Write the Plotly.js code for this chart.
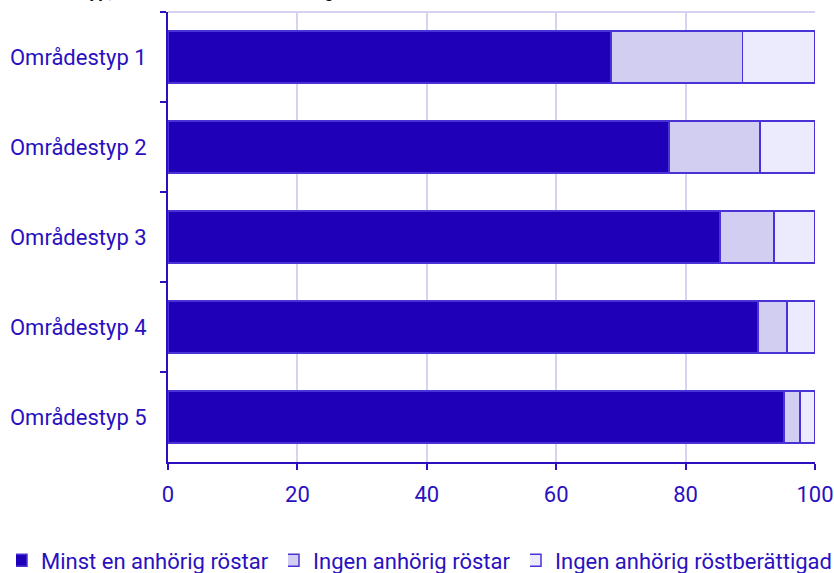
<!DOCTYPE html>
<html><head><meta charset="utf-8">
<script src="https://cdn.plot.ly/plotly-3.0.1.min.js"></script>
<style>body{margin:0;background:#fff}#c{width:834px;height:573px}</style>
</head><body><div id="c"></div>
<script>
var categories = ["Områdestyp 1","Områdestyp 2","Områdestyp 3","Områdestyp 4","Områdestyp 5"];
var seriesNames = ["Minst en anhörig röstar","Ingen anhörig röstar","Ingen anhörig röstberättigad"];
var minstEn = [68.5, 77.4, 85.3, 91.2, 95.2];
var ingenRostar = [20.3, 14.1, 8.4, 4.5, 2.5];
var ingenBerattigad = [11.2, 8.5, 6.3, 4.3, 2.3];
var xTicks = [0, 20, 40, 60, 80, 100];
var titleText = "Områdestyp, andel efter om alla anhöriga röstar";

var colors = ["#1f00b8", "#d2cef1", "#ecebfd"];
var blue = "#2a10c0";
var vals = [minstEn, ingenRostar, ingenBerattigad];
var legendIds = ["legend", "legend2", "legend3"];
var legendX = [16, 288, 530];
var traces = vals.map(function(v, i){
  return {type:"bar", orientation:"h", name:seriesNames[i], x:v, y:categories, legend:legendIds[i],
    marker:{color:colors[i], line:{color:"#4a33d6", width:1.5}}, hoverinfo:"skip"};
});
function legendCfg(px){
  return {orientation:"h", x:px/834, xanchor:"left", xref:"container", y:0.022, yref:"container", yanchor:"middle",
    font:{size:22, color:blue}, itemwidth:30, indentation:-15, bgcolor:"rgba(0,0,0,0)"};
}
var layout = {
  width:834, height:573, barmode:"stack", bargap:0.42,
  margin:{l:168, r:19, t:12, b:111, autoexpand:false},
  paper_bgcolor:"#fff", plot_bgcolor:"#fff",
  font:{family:"Roboto", size:22, color:blue},
  showlegend:true,
  legend:legendCfg(legendX[0]), legend2:legendCfg(legendX[1]), legend3:legendCfg(legendX[2]),
  xaxis:{range:[0,100], tickvals:xTicks, ticktext:xTicks.map(String),
    showgrid:true, gridcolor:"#d6d3f0", gridwidth:2, zeroline:false,
    showline:true, linecolor:blue, linewidth:2, ticks:"outside", ticklen:6, tickcolor:blue, tickwidth:2,
    ticklabelstandoff:6, tickfont:{size:22, color:blue}, fixedrange:true},
  yaxis:{autorange:"reversed", showline:true, linecolor:blue, linewidth:2,
    ticks:"outside", tickson:"boundaries", ticklen:6, tickcolor:blue, tickwidth:2,
    showgrid:false, tickfont:{size:22, color:blue}, ticklabelstandoff:15, fixedrange:true},
  shapes:[{type:"line", xref:"x", yref:"paper", x0:0, x1:100, y0:1, y1:1, line:{color:"#d6d3f0", width:2}, layer:"below"}],
  annotations:[{text:"<b>"+titleText+"</b>", xref:"paper", yref:"paper", x:-0.247, xanchor:"left", y:1, yshift:9, yanchor:"bottom", showarrow:false, font:{size:18, color:"#111"}}]
};
Plotly.newPlot("c", traces, layout, {displayModeBar:false, staticPlot:true});
</script></body></html>
